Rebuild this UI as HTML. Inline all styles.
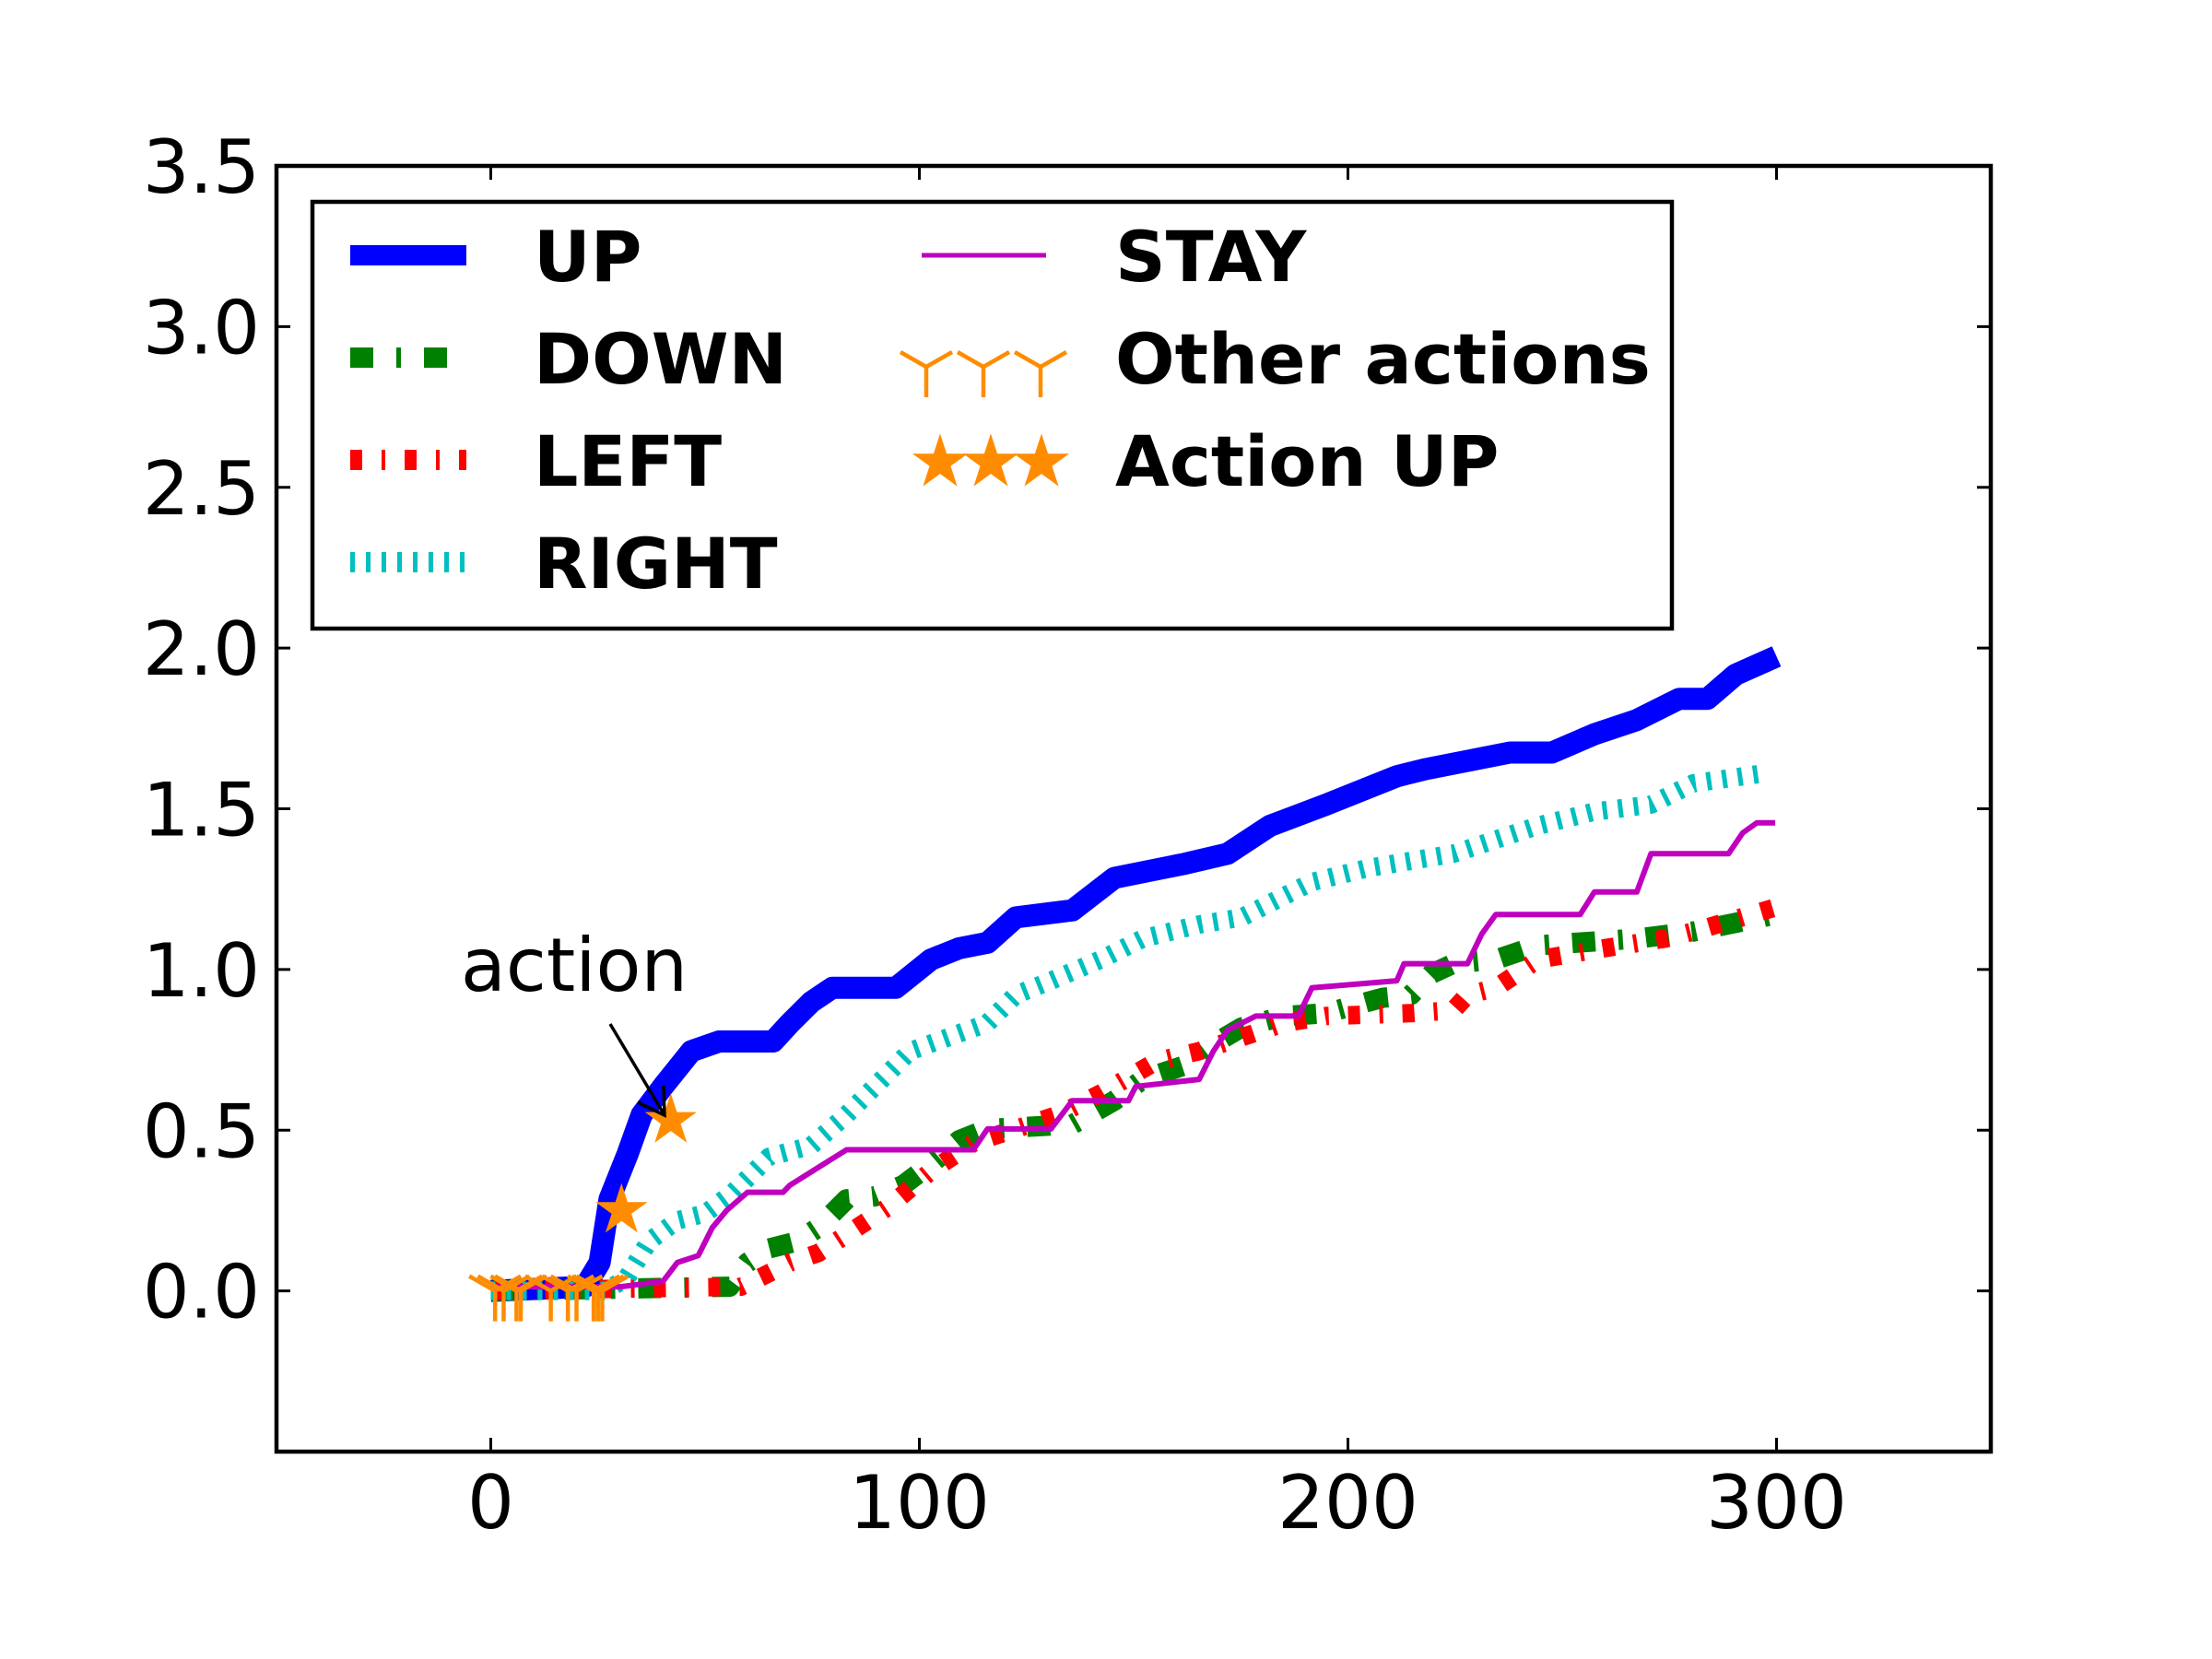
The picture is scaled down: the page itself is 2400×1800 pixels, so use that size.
<!DOCTYPE html>
<html><head><meta charset="utf-8"><style>
html,body{margin:0;padding:0;background:#fff;}
svg{display:block;font-family:"DejaVu Sans","Liberation Sans",sans-serif;}
</style></head><body>
<svg id="chart" width="2400" height="1800" viewBox="0 0 2400 1800" xmlns="http://www.w3.org/2000/svg">
<rect x="0" y="0" width="2400" height="1800" fill="#fff"/>
<g id="series"></g>
<g id="axes"></g>
<g id="legend"></g>
</svg>
<script>
const upX=[0,22,25.4,27.7,31.9,35.2,40.2,46.8,53.3,65.9,69.8,74.8,79.7,94.5,102.7,109.3,115.9,122.5,135.7,145.5,162,171.9,181.8,194.9,211.4,218,237.8,247.6,257.5,267.4,277.3,283.9,290.4,300];
const upY=[0,0.013,0.088,0.285,0.425,0.548,0.636,0.746,0.776,0.776,0.833,0.899,0.943,0.943,1.031,1.066,1.083,1.162,1.184,1.285,1.329,1.36,1.447,1.513,1.601,1.623,1.675,1.675,1.732,1.776,1.842,1.842,1.917,1.974];
const rightX=[0,27,31.9,36.9,43.5,50,56.6,64.9,74.8,83,92.9,97.8,115.9,122.5,130.7,142.3,152.1,165.3,175.2,181.8,191.6,204.8,224.6,234.5,244.3,257.5,270.7,280.6,297];
const rightY=[0,0,0.044,0.154,0.219,0.241,0.307,0.417,0.452,0.548,0.68,0.746,0.833,0.921,0.965,1.031,1.096,1.14,1.162,1.206,1.272,1.316,1.36,1.404,1.447,1.491,1.513,1.579,1.61];
const stayX=[0,30.3,40.2,43.5,48.4,51.7,55,59.9,68.2,69.8,83,112.6,115.9,130.7,135.7,148.8,150.5,165.3,168.6,171.9,178.5,188.4,191.6,211.4,213.1,227.9,231.2,234.5,254.2,257.5,267.4,270.7,288.8,292.1,295.4,299.7];
const stayY=[0.013,0.013,0.03,0.088,0.11,0.197,0.25,0.307,0.307,0.329,0.439,0.439,0.504,0.504,0.592,0.592,0.636,0.658,0.746,0.811,0.855,0.855,0.943,0.965,1.018,1.018,1.11,1.171,1.171,1.241,1.241,1.36,1.36,1.425,1.456,1.456];
const downX=[0,55.7,59.9,64.9,71.5,76.4,83,89.6,96.2,102.7,109.3,115.9,135.7,145.5,152.1,162,168.6,175.2,185.1,194.9,208.1,214.7,219.6,224.6,234.5,244.3,267.4,280.6,293.7,299.7];
const downY=[0,0.013,0.088,0.132,0.154,0.197,0.285,0.294,0.329,0.395,0.469,0.504,0.518,0.592,0.658,0.702,0.768,0.82,0.855,0.864,0.912,0.921,0.987,1.018,1.031,1.075,1.096,1.118,1.154,1.171];
const leftX=[0,58.3,63.2,69.8,76.4,83,92.9,102.7,112.6,122.5,132.4,142.3,155.4,165.3,175.2,185.1,194.9,214.7,224.6,227.9,234.5,244.3,257.5,274,280.6,299.7];
const leftY=[0,0.013,0.044,0.088,0.118,0.175,0.263,0.373,0.461,0.504,0.548,0.614,0.715,0.746,0.789,0.833,0.855,0.864,0.873,0.921,0.943,1.031,1.061,1.096,1.118,1.193];
const otherX=[1,3,6,7,14,18,20,24,25,26];
const otherY=[0,0,0,0,0,0,0,0,0,0];
const starX=[30.5,42];
const starY=[0.25,0.53];
const xTicks=[0,100,200,300];
const xTickLabels=["0","100","200","300"];
const yTicks=[0,0.5,1,1.5,2,2.5,3,3.5];
const yTickLabels=["0.0","0.5","1.0","1.5","2.0","2.5","3.0","3.5"];

const L=300,R=2160,T=180,B=1575;
const XMIN=-50,XMAX=350,YMIN=-0.5,YMAX=3.5;
function X(v){return L+(v-XMIN)/(XMAX-XMIN)*(R-L);}
function Y(v){return B-(v-YMIN)/(YMAX-YMIN)*(B-T);}
const NS="http://www.w3.org/2000/svg";
function mk(tag,attrs,parent){const e=document.createElementNS(NS,tag);for(const k in attrs)e.setAttribute(k,attrs[k]);parent.appendChild(e);return e;}
const S=document.getElementById('series'),A=document.getElementById('axes'),G=document.getElementById('legend');
function pts(xs,ys){return xs.map((x,i)=>X(x).toFixed(1)+','+Y(ys[i]).toFixed(1)).join(' ');}
function line(xs,ys,color,w,dash,name){
  const p=mk('polyline',{points:pts(xs,ys),fill:'none',stroke:color,'stroke-width':w,'stroke-dasharray':dash||'none','stroke-linejoin':'round'},S);
  
  
}
line(upX,upY,'#0000ff',24,'','line-up');
line(downX,downY,'#008000',22,'25 25 5 25','line-down');
line(leftX,leftY,'#ff0000',20,'13 21 4 21','line-left');
line(rightX,rightY,'#00bfbf',20,'5 12','line-right');
line(stayX,stayY,'#bf00bf',6,'','line-stay');
function tri(cx,cy,parent){
  const g=mk('g',{stroke:'#ff8c00','stroke-width':4.5,fill:'none'},parent);
  mk('line',{x1:cx,y1:cy,x2:cx,y2:cy+33},g);
  mk('line',{x1:cx,y1:cy,x2:cx-28,y2:cy-16},g);
  mk('line',{x1:cx,y1:cy,x2:cx+28,y2:cy-16},g);
  return g;
}
function star(cx,cy,r,parent){
  let d='';for(let i=0;i<10;i++){const a=-Math.PI/2+i*Math.PI/5;const rr=i%2?r*0.382:r;d+=(i?'L':'M')+(cx+rr*Math.cos(a)).toFixed(1)+','+(cy+rr*Math.sin(a)).toFixed(1);}
  return mk('path',{d:d+'Z',fill:'#ff8c00',stroke:'#ff8c00','stroke-width':1},parent);
}
otherX.forEach((x,i)=>{const m=tri(X(x),Y(otherY[i]),S);
  
  });
starX.forEach((x,i)=>{const m=star(X(x),Y(starY[i]),28,S);
  
  });
const an=mk('text',{x:623,y:1075,'font-size':80,'text-anchor':'middle',fill:'#000'},A);an.textContent='action';


const ar=mk('g',{stroke:'#000','stroke-width':3.5,fill:'none'},A);


mk('line',{x1:662,y1:1111,x2:721,y2:1210},ar);
mk('polyline',{points:'692,1196 721,1210 720,1178'},ar);
const fr=mk('rect',{x:L,y:T,width:R-L,height:B-T,fill:'none',stroke:'#000','stroke-width':4.5},A);


xTicks.forEach((v,i)=>{const x=X(v);
  mk('line',{x1:x,y1:B,x2:x,y2:B-15,stroke:'#000','stroke-width':3},A);
  mk('line',{x1:x,y1:T,x2:x,y2:T+15,stroke:'#000','stroke-width':3},A);
  const t=mk('text',{x:x,y:1658,'font-size':80,'text-anchor':'middle',fill:'#000'},A);t.textContent=xTickLabels[i];
  
  });
yTicks.forEach((v,i)=>{const y=Y(v);
  mk('line',{x1:L,y1:y,x2:L+15,y2:y,stroke:'#000','stroke-width':3},A);
  mk('line',{x1:R,y1:y,x2:R-15,y2:y,stroke:'#000','stroke-width':3},A);
  const t=mk('text',{x:282,y:y+29,'font-size':80,'text-anchor':'end',fill:'#000'},A);t.textContent=yTickLabels[i];
  
  });
const lb=mk('rect',{x:339,y:219,width:1475,height:463,fill:'#fff',stroke:'#000','stroke-width':4.5},G);


const entries=[
 {n:'UP',col:0,row:0,c:'#0000ff',w:22,d:''},
 {n:'DOWN',col:0,row:1,c:'#008000',w:22,d:'25 25 5 25'},
 {n:'LEFT',col:0,row:2,c:'#ff0000',w:22,d:'13 21 4 21'},
 {n:'RIGHT',col:0,row:3,c:'#00bfbf',w:22,d:'5 12'},
 {n:'STAY',col:1,row:0,c:'#bf00bf',w:5,d:''},
 {n:'Other actions',col:1,row:1,m:'tri'},
 {n:'Action UP',col:1,row:2,m:'star'}];
const rowY=[277,388,499,610];
entries.forEach(e=>{const y=rowY[e.row];const x0=e.col?1000:380,x1=e.col?1135:506,tx=e.col?1210:579;
  let mark;
  if(e.m==='tri'){mark=mk('g',{},G);[1005,1067,1129].forEach(x=>tri(x,y+10,mark));}
  else if(e.m==='star'){mark=mk('g',{},G);[1020,1075,1130].forEach(x=>star(x,y+3,30,mark));}
  else mark=mk('line',{x1:x0,y1:y,x2:x1,y2:y,stroke:e.c,'stroke-width':e.w,'stroke-dasharray':e.d||'none'},G);
  
  
  const t=mk('text',{x:tx,y:y+28,'font-size':76,'font-weight':'bold',fill:'#000'},G);t.textContent=e.n;
  
  
});
</script>
</body></html>
